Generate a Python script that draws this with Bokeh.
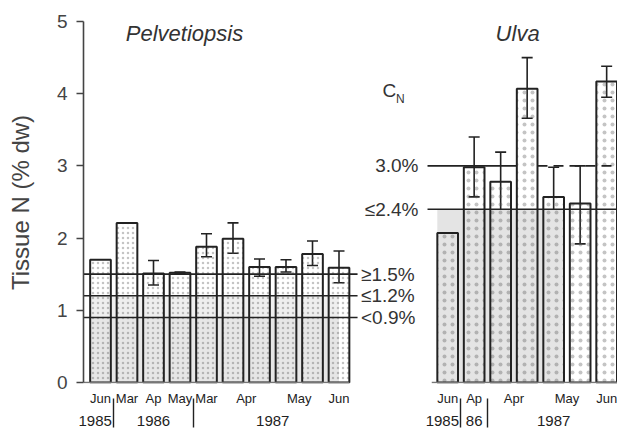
from bokeh.plotting import figure
from bokeh.models import (Range1d, FixedTicker, ColumnDataSource, Whisker, TeeHead,
                          LinearAxis)
from bokeh.core.properties import value
from bokeh.embed import file_html
from bokeh.resources import INLINE

# ---------------- data ----------------
pelv_values = [1.70, 2.21, 1.51, 1.52, 1.88, 1.99, 1.60, 1.60, 1.78, 1.59]
pelv_upper = [None, None, 1.69, 1.53, 2.06, 2.21, 1.71, 1.70, 1.96, 1.82]
pelv_lower = [None, None, 1.35, 1.51, 1.74, 1.79, 1.47, 1.53, 1.62, 1.38]
pelv_months = ["Jun", "Mar", "Ap", "May", "Mar", "Apr", "May", "Jun"]
pelv_month_spans = [(0, 0), (1, 1), (2, 2), (3, 3), (4, 4), (5, 6), (7, 8), (9, 9)]
pelv_years = ["1985", "1986", "1987"]
pelv_year_spans = [(0, 0), (1, 3), (4, 9)]
pelv_thresholds = [1.5, 1.2, 0.9]
pelv_threshold_labels = ["\u22651.5%", "\u22641.2%", "<0.9%"]

ulva_values = [2.07, 2.98, 2.78, 4.07, 2.57, 2.48, 4.17]
ulva_upper = [None, 3.40, 3.19, 4.50, 2.98, 3.00, 4.38]
ulva_lower = [None, 2.57, 2.39, 3.66, 2.21, 1.92, 3.95]
ulva_months = ["Jun", "Ap", "Apr", "May", "Jun"]
ulva_month_spans = [(0, 0), (1, 1), (2, 3), (4, 5), (6, 6)]
ulva_years = ["1985", "86", "1987"]
ulva_year_spans = [(0, 0), (1, 1), (2, 6)]
ulva_thresholds = [3.0, 2.4]
ulva_threshold_labels = ["3.0%", "\u22642.4%"]

y_ticks = [0, 1, 2, 3, 4, 5]

# ---------------- layout constants ----------------
ULVA_OFFSET = 13.1
BAR_W = 0.78
FIRST_YEAR_SHIFT = 0.7
X0, X1 = -0.6415, 19.509
Y0, Y1 = -0.015, 5.0
FONT = value("Liberation Sans")
FONT_NAME = "Liberation Sans"
INK = "#222222"

p = figure(width=617, height=431, x_range=Range1d(X0, X1), y_range=Range1d(Y0, Y1),
           x_axis_type=None, output_backend="svg", toolbar_location=None,
           min_border_left=83, min_border_right=0, min_border_top=21, min_border_bottom=48,
           outline_line_color=None, background_fill_color="white")
p.grid.visible = False

pelv_x = [float(i) for i in range(len(pelv_values))]
ulva_x = [ULVA_OFFSET + i for i in range(len(ulva_values))]

# gray shaded zones
p.quad(left=[pelv_x[0] - BAR_W / 2], right=[pelv_x[-1]], bottom=[0], top=[pelv_thresholds[2]],
       fill_color="#e6e6e6", line_color=None)
p.quad(left=[pelv_x[0] - BAR_W / 2], right=[pelv_x[-1]], bottom=[pelv_thresholds[2]], top=[pelv_thresholds[1]],
       fill_color="#efefef", line_color=None)
p.quad(left=[ulva_x[0] - BAR_W / 2], right=[ulva_x[4] + BAR_W / 2], bottom=[0], top=[ulva_thresholds[1]],
       fill_color="#e4e4e4", line_color=None)

# bars
p.vbar(x=pelv_x, top=pelv_values, bottom=0, width=BAR_W, fill_color=None,
       line_color=INK, line_width=2, hatch_pattern="dot", hatch_scale=5,
       hatch_color="#555555", hatch_alpha=0.35, hatch_weight=1)
p.vbar(x=ulva_x, top=ulva_values, bottom=0, width=BAR_W, fill_color=None,
       line_color=INK, line_width=2, hatch_pattern="dot", hatch_scale=8,
       hatch_color="#555555", hatch_alpha=0.35, hatch_weight=1)

# baselines
p.segment(x0=[X0, ULVA_OFFSET - 0.6], x1=[pelv_x[-1] + BAR_W / 2, X1], y0=[0, 0], y1=[0, 0],
          line_color="#777777", line_width=1.5)

# threshold lines
p.segment(x0=[X0] * 3, x1=[pelv_x[-1] + 0.7] * 3, y0=pelv_thresholds, y1=pelv_thresholds,
          line_color=INK, line_width=1.6)
ulva_line_start = ULVA_OFFSET - 0.76
p.segment(x0=[ulva_line_start, ulva_line_start], x1=[ulva_x[3] - BAR_W / 2, X1],
          y0=[ulva_thresholds[0], ulva_thresholds[1]], y1=[ulva_thresholds[0], ulva_thresholds[1]],
          line_color=INK, line_width=1.6)
p.segment(x0=[ulva_x[3] + BAR_W / 2], x1=[X1], y0=[ulva_thresholds[0]], y1=[ulva_thresholds[0]],
          line_color=INK, line_width=1.6, line_dash="10 6")

# error bars
ex, eu, el = [], [], []
for xs, us, ls in ((pelv_x, pelv_upper, pelv_lower), (ulva_x, ulva_upper, ulva_lower)):
    for x, u, l in zip(xs, us, ls):
        if u is not None:
            ex.append(x); eu.append(u); el.append(l)
err_src = ColumnDataSource(dict(x=ex, upper=eu, lower=el))
w = Whisker(source=err_src, base="x", upper="upper", lower="lower",
            line_color=INK, line_width=1.6,
            upper_head=TeeHead(size=11, line_color=INK, line_width=1.6),
            lower_head=TeeHead(size=11, line_color=INK, line_width=1.6))
p.add_layout(w)

# threshold labels
p.text(x=[pelv_x[-1] + 0.83] * 3, y=pelv_thresholds, text=pelv_threshold_labels,
       text_font=FONT, text_font_size="19px", text_align="left", text_baseline="middle",
       text_color="#333333")
p.text(x=[ulva_line_start - 0.34] * 2, y=ulva_thresholds, text=ulva_threshold_labels,
       text_font=FONT, text_font_size="19px", text_align="right", text_baseline="middle",
       text_color="#333333")
p.text(x=[10.64], y=[4.05], text=["C"], text_font=FONT, text_font_size="19px",
       text_align="left", text_baseline="middle", text_color="#333333")
p.text(x=[11.15], y=[3.93], text=["N"], text_font=FONT, text_font_size="12px",
       text_align="left", text_baseline="middle", text_color="#333333")

# titles
p.text(x=[3.17, ULVA_OFFSET + 2.64], y=[4.83, 4.83], text=["Pelvetiopsis", "Ulva"],
       text_font=FONT, text_font_size="22px", text_font_style="italic",
       text_align="center", text_baseline="middle", text_color="#333333")

# ---- month axis (below frame) ----
month_ticks, month_over = [], {}
for xs, months, spans in ((pelv_x, pelv_months, pelv_month_spans), (ulva_x, ulva_months, ulva_month_spans)):
    for m, (a, b) in zip(months, spans):
        t = round((xs[a] + xs[b]) / 2, 4)
        month_ticks.append(t); month_over[t] = m
month_axis = LinearAxis(ticker=FixedTicker(ticks=month_ticks, minor_ticks=[]),
                        major_label_overrides=month_over,
                        axis_line_color=None, major_tick_line_color=None,
                        minor_tick_line_color=None, major_tick_out=0, major_tick_in=0,
                        minor_tick_out=0, minor_tick_in=0,
                        major_label_standoff=7, major_label_text_font=FONT_NAME,
                        major_label_text_font_size="13px", major_label_text_color=INK)
p.add_layout(month_axis, "below")

# ---- year axis (below months) with separators as minor ticks ----
year_ticks, year_over, sep_ticks = [], {}, []
for xs, years, spans in ((pelv_x, pelv_years, pelv_year_spans), (ulva_x, ulva_years, ulva_year_spans)):
    for k, (yr, (a, b)) in enumerate(zip(years, spans)):
        if k == 0:
            t = round(xs[b] + 0.5 - FIRST_YEAR_SHIFT, 4)
        else:
            t = round((xs[a] + xs[b]) / 2, 4)
            sep_ticks.append(round(xs[a] - 0.5, 4))
        year_ticks.append(t); year_over[t] = yr
year_axis = LinearAxis(ticker=FixedTicker(ticks=year_ticks, minor_ticks=sep_ticks),
                       major_label_overrides=year_over,
                       axis_line_color=None, major_tick_line_color=None,
                       major_tick_out=0, major_tick_in=0,
                       minor_tick_line_color=INK, minor_tick_line_width=1.4,
                       minor_tick_in=10, minor_tick_out=19,
                       major_label_standoff=-12, major_label_text_font=FONT_NAME,
                       major_label_text_font_size="15px", major_label_text_color=INK)
p.add_layout(year_axis, "below")

# y axis
ax = p.yaxis[0]
ax.ticker = FixedTicker(ticks=y_ticks)
ax.bounds = (0, 5)
ax.axis_line_color = "#444444"
ax.axis_line_width = 1.6
ax.major_tick_out = 7
ax.major_tick_in = 0
ax.major_tick_line_width = 1.4
ax.major_tick_line_color = "#444444"
ax.minor_tick_line_color = None
ax.major_label_standoff = 9
ax.major_label_text_font = FONT_NAME
ax.major_label_text_font_size = "19px"
ax.major_label_text_color = "#444444"
ax.axis_label = "Tissue N (% dw)"
ax.axis_label_text_font = FONT_NAME
ax.axis_label_text_font_size = "24px"
ax.axis_label_text_font_style = "normal"
ax.axis_label_text_color = "#444444"
ax.axis_label_standoff = 20

open("out.html", "w").write(file_html(p, INLINE))
